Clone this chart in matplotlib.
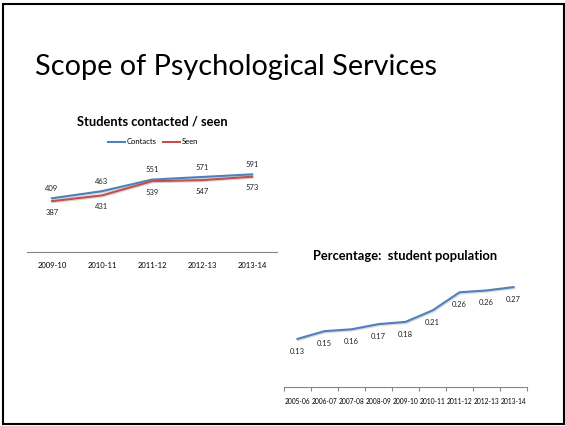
import matplotlib
matplotlib.use('Agg')
import matplotlib.pyplot as plt
from matplotlib.patches import Rectangle
from matplotlib.lines import Line2D
import matplotlib.patheffects as pe

plt.rcParams['font.family'] = ['Lato', 'DejaVu Sans']

# Data
years1 = ['2009-10', '2010-11', '2011-12', '2012-13', '2013-14']
contacts = [409, 463, 551, 571, 591]
seen = [387, 431, 539, 547, 573]

years2 = ['2005-06', '2006-07', '2007-08', '2008-09', '2009-10',
          '2010-11', '2011-12', '2012-13', '2013-14']
pct = [0.13, 0.151, 0.156, 0.17, 0.176, 0.207, 0.256, 0.261, 0.27]

W, H = 565, 426
BLUE = '#4F81BD'
RED = '#C0504D'
AXC = '#868686'


def px(x0, y0, x1, y1):
    # pixel box (top-left origin) -> figure rect
    return [x0 / W, 1 - y1 / H, (x1 - x0) / W, (y1 - y0) / H]


fig = plt.figure(figsize=(W / 100, H / 100), dpi=100)

# slide frame
fig.patches.append(Rectangle((3 / W, 2 / H), 561 / W, 420 / H, transform=fig.transFigure,
                             fill=False, edgecolor='black', linewidth=1.5))

fig.text(35 / W, 1 - 75 / H, 'Scope of Psychological Services', fontsize=20.8,
         va='baseline', ha='left', color='black')

shadow = [pe.SimpleLineShadow(offset=(0.6, -0.8), shadow_color='#BBBBBB', alpha=0.6), pe.Normal()]

# chart 1: students contacted / seen
ax1 = fig.add_axes(px(27, 160, 277, 252))
x1 = range(len(years1))
ax1.plot(x1, contacts, color=BLUE, lw=1.5, path_effects=shadow)
ax1.plot(x1, seen, color=RED, lw=1.5, path_effects=shadow)
for i, v in enumerate(contacts):
    ax1.annotate(str(v), (i, v), xytext=(0, 7), textcoords='offset points',
                 ha='center', va='center', fontsize=5.5, color='#222222')
for i, v in enumerate(seen):
    ax1.annotate(str(v), (i, v), xytext=(0, -8), textcoords='offset points',
                 ha='center', va='center', fontsize=5.5, color='#222222')
ax1.set_xlim(-0.5, len(years1) - 0.5)
ax1.set_ylim(0, 700)
ax1.set_xticks(list(x1))
ax1.set_xticklabels(years1, fontsize=5.5)
ax1.tick_params(axis='x', length=0, pad=7)
ax1.set_yticks([])
for s in ['top', 'right', 'left']:
    ax1.spines[s].set_visible(False)
ax1.spines['bottom'].set_color(AXC)
ax1.spines['bottom'].set_linewidth(0.8)
ax1.patch.set_alpha(0)

fig.text(152 / W, 1 - 121 / H, 'Students contacted / seen', fontsize=9.3,
         fontweight='bold', ha='center', va='center')
handles = [Line2D([], [], color=BLUE, lw=1.5), Line2D([], [], color=RED, lw=1.5)]
fig.legend(handles, ['Contacts', 'Seen'], loc='center', bbox_to_anchor=(153 / W, 1 - 142 / H),
           ncol=2, frameon=False, fontsize=5.5, handlelength=2.3, handletextpad=0.2,
           columnspacing=0.8)

# chart 2: percentage of student population
ax2 = fig.add_axes(px(284, 276, 527, 387))
x2 = range(len(years2))
ax2.plot(x2, pct, color=BLUE, lw=1.5, path_effects=shadow)
for i, v in enumerate(pct):
    ax2.annotate('%.2f' % v, (i, v), xytext=(0, -9), textcoords='offset points',
                 ha='center', va='center', fontsize=5.5, color='#222222')
ax2.set_xlim(-0.5, len(years2) - 0.5)
ax2.set_ylim(0, 0.3)
ax2.set_xticks(list(x2))
ax2.set_xticklabels(years2, fontsize=4.8)
ax2.set_xticks([i - 0.5 for i in range(len(years2) + 1)], minor=True)
ax2.tick_params(axis='x', which='major', length=0, pad=8)
ax2.tick_params(axis='x', which='minor', length=3, color=AXC, width=0.8)
ax2.set_yticks([])
for s in ['top', 'right', 'left']:
    ax2.spines[s].set_visible(False)
ax2.spines['bottom'].set_color(AXC)
ax2.spines['bottom'].set_linewidth(0.8)
ax2.patch.set_alpha(0)

fig.text(405 / W, 1 - 256 / H, 'Percentage:  student population', fontsize=9.3,
         fontweight='bold', ha='center', va='center')

fig.savefig('out.png', dpi=100)
